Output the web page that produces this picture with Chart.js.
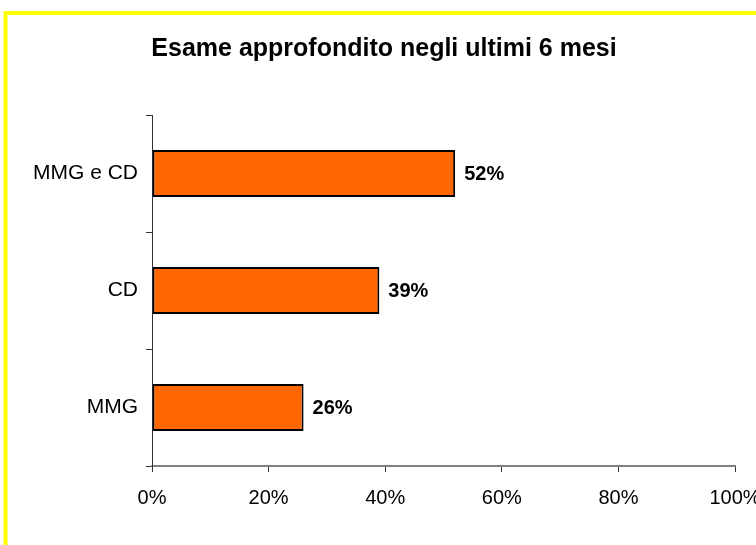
<!DOCTYPE html>
<html>
<head>
<meta charset="utf-8">
<script src="https://cdn.jsdelivr.net/npm/chart.js@4"></script>
<style>
  body { margin: 0; background: #fff; }
  canvas { display: block; }
</style>
</head>
<body>
<canvas id="chartContainer" width="756" height="545"></canvas>
<script>
// chart data
const categories = ['MMG e CD', 'CD', 'MMG'];
const percentValues = [52, 39, 26];
const xTickValues = [0, 20, 40, 60, 80, 100];
const chartTitle = 'Esame approfondito negli ultimi 6 mesi';

const fontFamily = 'Arial, "Liberation Sans", sans-serif';

// yellow frame round the whole chart
const framePlugin = {
    id: 'frame',
    beforeDraw: (chart) => {
        const ctx = chart.ctx;
        ctx.save();
        ctx.fillStyle = '#fff';
        ctx.fillRect(0, 0, chart.width, chart.height);
        ctx.strokeStyle = '#FFFF00';
        ctx.lineWidth = 4;
        ctx.strokeRect(5.5, 13, chart.width + 40, chart.height + 40);
        ctx.restore();
    }
};

// title, centred like the original
const titlePlugin = {
    id: 'titleText',
    afterDraw: (chart) => {
        const ctx = chart.ctx;
        ctx.save();
        ctx.font = 'bold 25px ' + fontFamily;
        ctx.fillStyle = '#000';
        ctx.textAlign = 'center';
        ctx.textBaseline = 'middle';
        ctx.fillText(chartTitle, 384, 49);
        ctx.restore();
    }
};

// value labels at the end of each bar
const valueLabelPlugin = {
    id: 'valueLabels',
    afterDatasetsDraw: (chart) => {
        const ctx = chart.ctx;
        const meta = chart.getDatasetMeta(0);
        ctx.save();
        ctx.font = 'bold 20px ' + fontFamily;
        ctx.fillStyle = '#000';
        ctx.textAlign = 'left';
        ctx.textBaseline = 'middle';
        meta.data.forEach((bar, i) => {
            ctx.fillText(percentValues[i] + '%', bar.x + 9, bar.y + 1);
        });
        ctx.restore();
    }
};

const ctx = document.getElementById('chartContainer').getContext('2d');
const chart = new Chart(ctx, {
    type: 'bar',
    data: {
        labels: categories,
        datasets: [{
            data: percentValues,
            backgroundColor: '#FF6600',
            borderColor: '#000',
            borderWidth: 2,
            borderSkipped: false,
            categoryPercentage: 1,
            barPercentage: 0.4
        }]
    },
    options: {
        indexAxis: 'y',
        responsive: false,
        animation: false,
        layout: {
            padding: { top: 115, right: 21, bottom: 0, left: 0 }
        },
        scales: {
            x: {
                min: 0,
                max: 100,
                afterBuildTicks: (scale) => {
                    scale.ticks = xTickValues.map(v => ({ value: v }));
                },
                afterFit: (scale) => {
                    scale.height = 79;
                    scale.paddingLeft = 0;
                    scale.paddingRight = 0;
                },
                grid: { drawOnChartArea: false, tickLength: 6, color: '#333' },
                border: { color: '#808080', width: 2 },
                ticks: {
                    padding: 14,
                    color: '#000',
                    font: { family: fontFamily, size: 20 },
                    maxRotation: 0,
                    callback: (v) => v + '%'
                }
            },
            y: {
                afterFit: (scale) => { scale.width = 152; },
                grid: { drawOnChartArea: false, tickLength: 6, color: '#333', offset: true },
                border: { color: '#333', width: 1 },
                ticks: {
                    padding: 8,
                    color: '#000',
                    font: { family: fontFamily, size: 21 }
                }
            }
        },
        plugins: {
            legend: { display: false },
            tooltip: { enabled: false }
        }
    },
    plugins: [framePlugin, titlePlugin, valueLabelPlugin]
});
</script>
</body>
</html>
